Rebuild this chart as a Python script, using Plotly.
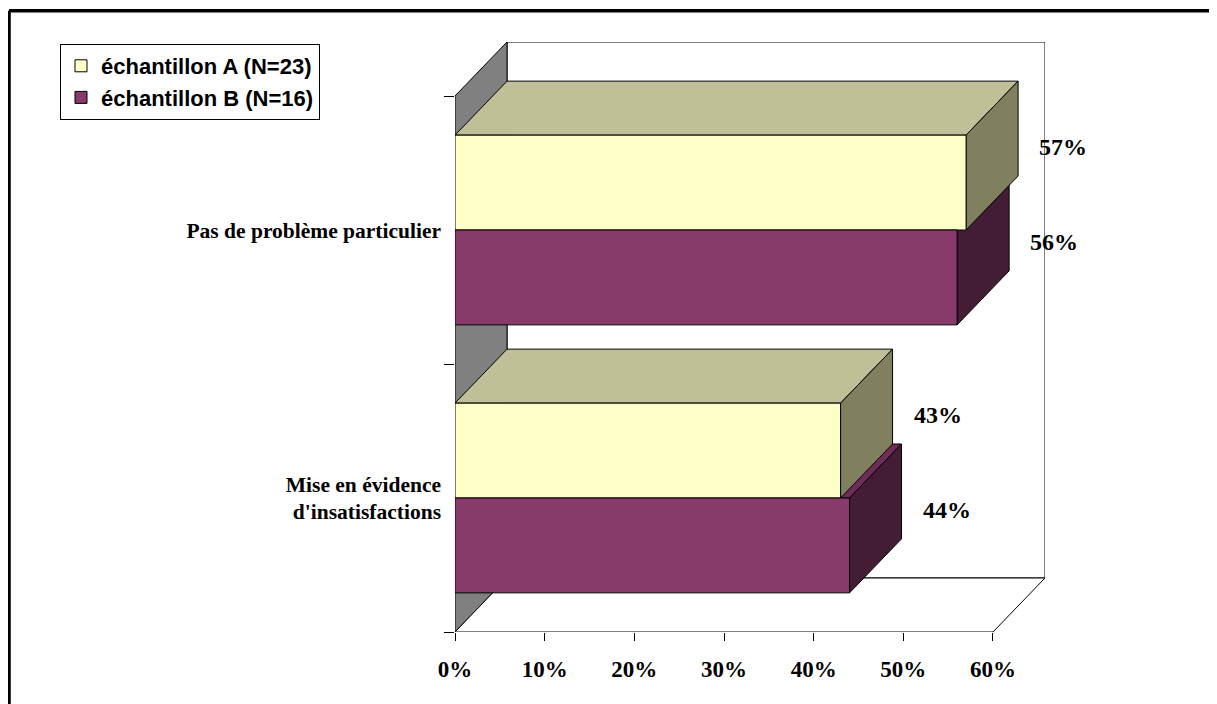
import plotly.graph_objects as go

# ---------------- data ----------------
categories = ["Mise en évidence<br>d'insatisfactions", "Pas de problème particulier"]  # bottom -> top
series_names = ["échantillon A (N=23)", "échantillon B (N=16)"]
serie_a = [43, 57]
serie_b = [44, 56]
x_ticks = [0, 10, 20, 30, 40, 50, 60]
x_tick_labels = ["0%", "10%", "20%", "30%", "40%", "50%", "60%"]

# ---------------- style / geometry ----------------
XMAX = 60
DX = 5.8          # depth offset in x units (%)
DY = 0.2015       # depth offset in category units
BW = 0.354        # bar thickness
OFF = 0.177       # bar offset from category centre
front_colors = ["#FFFFC8", "#883A6A"]
top_colors = ["#C0C098", "#6E2C57"]
side_colors = ["#80805F", "#431C36"]
serif = "Liberation Serif, Times New Roman, serif"

fig = go.Figure()

# walls (shapes under traces)
shapes = []
# back wall
shapes.append(dict(type="rect", xref="x", yref="y", x0=DX, x1=XMAX + DX, y0=DY, y1=len(categories) + DY,
                   fillcolor="white", line=dict(color="black", width=1), layer="below"))
# left wall
shapes.append(dict(type="path", xref="x", yref="y",
                   path=f"M0,0 L{DX},{DY} L{DX},{len(categories)+DY} L0,{len(categories)} Z",
                   fillcolor="#808080", line=dict(color="black", width=1), layer="below"))
# floor
shapes.append(dict(type="path", xref="x", yref="y",
                   path=f"M0,0 L{XMAX},0 L{XMAX+DX},{DY} L{DX},{DY} Z",
                   fillcolor="white", line=dict(color="black", width=1), layer="below"))
# outer frame (top + left edges)
FX = -0.7559
FY = 1.0531
shapes.append(dict(type="line", xref="paper", yref="paper", x0=FX, x1=1.4, y0=FY, y1=FY,
                   line=dict(color="black", width=3.5)))
shapes.append(dict(type="line", xref="paper", yref="paper", x0=FX, x1=FX, y0=FY, y1=-0.2,
                   line=dict(color="black", width=3.5)))


def poly(xs, ys, color):
    fig.add_trace(go.Scatter(x=xs + [xs[0]], y=ys + [ys[0]], mode="lines", fill="toself",
                             fillcolor=color, line=dict(color="black", width=1),
                             hoverinfo="skip", showlegend=False, xaxis="x", yaxis="y"))


# side faces (top + right), painter's order: upper category first, lower series first
for i in reversed(range(len(categories))):
    for vals, sign in [(serie_b, -1), (serie_a, 1)]:
        si = 1 if sign == -1 else 0
        v = vals[i]
        yc = i + 0.5 + sign * OFF
        y0, y1 = yc - BW / 2, yc + BW / 2
        # top face
        poly([0, v, v + DX, DX], [y1, y1, y1 + DY, y1 + DY], top_colors[si])
        # right face
        poly([v, v, v + DX, v + DX], [y0, y1, y1 + DY, y0 + DY], side_colors[si])

# front faces as real bars on an overlaying subplot (drawn above the side faces)
for si, (name, vals, sign) in enumerate([(series_names[0], serie_a, 1), (series_names[1], serie_b, -1)]):
    fig.add_trace(go.Bar(
        orientation="h", name=name, x=vals,
        y=[i + 0.5 + sign * OFF for i in range(len(categories))],
        width=BW, base=0,
        marker=dict(color=front_colors[si], line=dict(color="black", width=1)),
        xaxis="x2", yaxis="y2", hoverinfo="skip"))

# data labels
annotations = []
for vals, sign in [(serie_a, 1), (serie_b, -1)]:
    for i, v in enumerate(vals):
        annotations.append(dict(x=v + DX, y=i + 0.5 + sign * OFF + 0.65 * DY, xref="x", yref="y",
                                xshift=45, text=f"{v}%", showarrow=False,
                                font=dict(family=serif, size=24, color="black", weight="bold")))

yrange = [0, len(categories) + DY]
xrange = [0, XMAX + DX]
fig.update_layout(
    width=1209, height=696,
    margin=dict(l=447, r=172, t=34, b=72),
    paper_bgcolor="white", plot_bgcolor="rgba(0,0,0,0)",
    barmode="overlay",
    shapes=shapes, annotations=annotations,
    showlegend=True,
    legend=dict(x=-0.6695, y=0.9966, xanchor="left", yanchor="top",
                bgcolor="white", bordercolor="black", borderwidth=1,
                font=dict(family="Liberation Sans, Arial, sans-serif", size=22, color="black", weight="bold"),
                traceorder="normal", tracegroupgap=0),
    xaxis=dict(range=xrange, showgrid=False, zeroline=False, showline=False,
               tickvals=x_ticks, ticktext=x_tick_labels, ticks="outside", ticklen=8,
               tickcolor="black", tickwidth=1, ticklabelstandoff=8,
               tickfont=dict(family=serif, size=23, color="black", weight="bold")),
    yaxis=dict(range=yrange, showgrid=False, zeroline=False, showline=False,
               tickvals=[i + 0.5 for i in range(len(categories))], ticktext=categories,
               ticks="", ticklabelstandoff=13,
               minor=dict(tickvals=list(range(len(categories) + 1)), ticks="outside", ticklen=10,
                          tickcolor="black", tickwidth=1, showgrid=False),
               tickfont=dict(family=serif, size=21.5, color="black", weight="bold")),
    xaxis2=dict(range=xrange, overlaying="x", visible=False),
    yaxis2=dict(range=yrange, overlaying="y", visible=False),
)

fig.write_html("out.html")
